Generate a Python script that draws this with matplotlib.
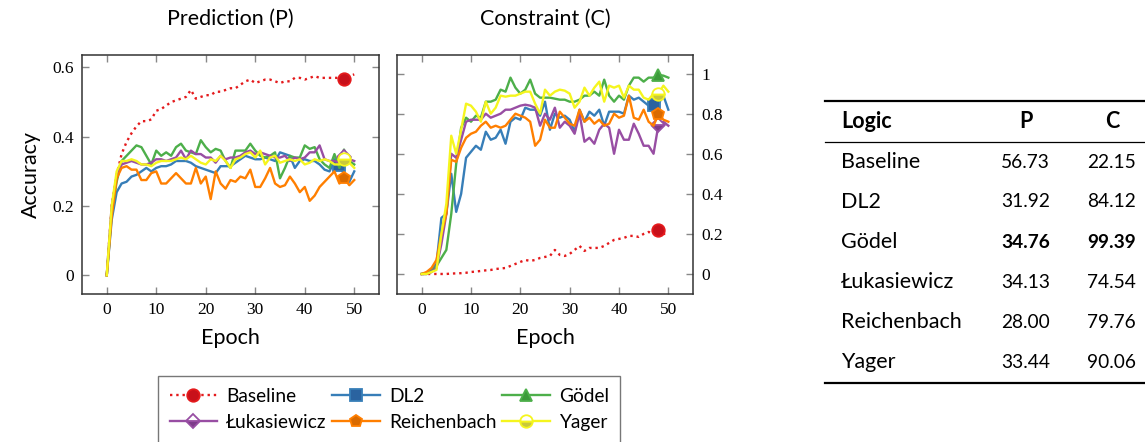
import numpy as np
import matplotlib.pyplot as plt
from matplotlib.lines import Line2D

# Datos
epochs = np.arange(51)
logics = ["Baseline", "DL2", "Gödel", "Łukasiewicz", "Reichenbach", "Yager"]

pred_baseline = [0.0, 0.2, 0.29, 0.35, 0.385, 0.41, 0.43, 0.445, 0.445, 0.45, 0.475, 0.48, 0.49, 0.5, 0.505,
                 0.51, 0.515, 0.535, 0.51, 0.515, 0.52, 0.52, 0.53, 0.53, 0.535, 0.54, 0.54, 0.55, 0.56, 0.565,
                 0.555, 0.56, 0.565, 0.565, 0.56, 0.555, 0.56, 0.56, 0.57, 0.57, 0.565, 0.57, 0.575, 0.57, 0.57,
                 0.57, 0.57, 0.57, 0.5673, 0.575, 0.58]
pred_dl2 = [0.0, 0.16, 0.24, 0.265, 0.27, 0.285, 0.29, 0.3, 0.31, 0.3, 0.31, 0.315, 0.315, 0.32, 0.33,
            0.33, 0.33, 0.325, 0.315, 0.31, 0.305, 0.3, 0.295, 0.315, 0.315, 0.315, 0.325, 0.335, 0.345, 0.34,
            0.335, 0.335, 0.34, 0.335, 0.33, 0.355, 0.35, 0.345, 0.31, 0.33, 0.335, 0.33, 0.33, 0.32, 0.305,
            0.3, 0.33, 0.3192, 0.29, 0.27, 0.3]
pred_godel = [0.0, 0.18, 0.27, 0.33, 0.345, 0.36, 0.375, 0.37, 0.345, 0.32, 0.36, 0.345, 0.355, 0.345, 0.37,
              0.38, 0.36, 0.355, 0.35, 0.39, 0.37, 0.355, 0.365, 0.36, 0.33, 0.31, 0.36, 0.36, 0.36, 0.38,
              0.36, 0.345, 0.34, 0.345, 0.355, 0.28, 0.31, 0.345, 0.34, 0.34, 0.375, 0.365, 0.37, 0.335, 0.32,
              0.31, 0.35, 0.31, 0.3476, 0.33, 0.32]
pred_luk = [0.0, 0.2, 0.28, 0.32, 0.325, 0.33, 0.325, 0.32, 0.32, 0.325, 0.335, 0.335, 0.33, 0.335, 0.34,
            0.36, 0.335, 0.36, 0.35, 0.35, 0.34, 0.34, 0.325, 0.345, 0.335, 0.34, 0.34, 0.345, 0.355, 0.36,
            0.35, 0.355, 0.35, 0.345, 0.34, 0.34, 0.345, 0.33, 0.34, 0.335, 0.34, 0.355, 0.355, 0.375, 0.335,
            0.33, 0.33, 0.325, 0.3413, 0.335, 0.33]
pred_reich = [0.0, 0.17, 0.28, 0.31, 0.315, 0.305, 0.305, 0.275, 0.275, 0.295, 0.3, 0.265, 0.265, 0.28, 0.295,
              0.28, 0.265, 0.265, 0.31, 0.265, 0.285, 0.22, 0.3, 0.265, 0.25, 0.275, 0.27, 0.285, 0.28, 0.305,
              0.255, 0.255, 0.28, 0.31, 0.265, 0.255, 0.26, 0.285, 0.265, 0.24, 0.255, 0.215, 0.23, 0.255, 0.27,
              0.285, 0.3, 0.265, 0.28, 0.26, 0.275]
pred_yager = [0.0, 0.2, 0.3, 0.33, 0.33, 0.335, 0.33, 0.32, 0.32, 0.315, 0.325, 0.33, 0.33, 0.33, 0.335,
              0.34, 0.335, 0.345, 0.335, 0.325, 0.32, 0.335, 0.33, 0.345, 0.33, 0.31, 0.335, 0.34, 0.35, 0.355,
              0.34, 0.36, 0.32, 0.34, 0.345, 0.325, 0.33, 0.335, 0.33, 0.335, 0.32, 0.325, 0.335, 0.33, 0.335,
              0.33, 0.32, 0.32, 0.3344, 0.325, 0.31]

cons_baseline = [0.0, 0.0, 0.0, 0.0, 0.0, 0.0, 0.002, 0.003, 0.004, 0.006, 0.01, 0.012, 0.015, 0.018, 0.02,
                 0.025, 0.027, 0.03, 0.04, 0.05, 0.06, 0.07, 0.065, 0.07, 0.08, 0.085, 0.09, 0.12, 0.095, 0.09,
                 0.1, 0.12, 0.14, 0.115, 0.13, 0.13, 0.13, 0.14, 0.155, 0.17, 0.175, 0.18, 0.19, 0.19, 0.185,
                 0.2, 0.21, 0.2, 0.2215, 0.2, 0.2]
cons_dl2 = [0.0, 0.0, 0.02, 0.05, 0.28, 0.3, 0.5, 0.31, 0.4, 0.58, 0.61, 0.64, 0.62, 0.71, 0.67,
            0.68, 0.72, 0.65, 0.76, 0.78, 0.77, 0.83, 0.82, 0.82, 0.79, 0.86, 0.72, 0.8, 0.78, 0.79,
            0.77, 0.71, 0.82, 0.76, 0.81, 0.79, 0.82, 0.74, 0.81, 0.81, 0.81, 0.8, 0.89, 0.87, 0.88,
            0.86, 0.84, 0.8412, 0.85, 0.89, 0.82]
cons_godel = [0.0, 0.005, 0.01, 0.04, 0.08, 0.12, 0.3, 0.55, 0.73, 0.78, 0.76, 0.79, 0.78, 0.86, 0.86,
              0.87, 0.92, 0.91, 0.98, 0.93, 0.9, 0.92, 0.97, 0.9, 0.88, 0.88, 0.88, 0.875, 0.87, 0.87,
              0.86, 0.86, 0.87, 0.89, 0.89, 0.91, 0.89, 0.97, 0.89, 0.86, 0.89, 0.87, 0.94, 0.98, 0.98,
              0.96, 0.98, 0.98, 0.9939, 0.99, 0.98]
cons_luk = [0.0, 0.0, 0.01, 0.03, 0.15, 0.3, 0.6, 0.58, 0.67, 0.76, 0.77, 0.77, 0.77, 0.8, 0.78,
            0.79, 0.8, 0.82, 0.82, 0.83, 0.84, 0.845, 0.84, 0.83, 0.74, 0.8, 0.77, 0.83, 0.73, 0.76,
            0.74, 0.7, 0.8, 0.66, 0.68, 0.65, 0.72, 0.75, 0.73, 0.6, 0.72, 0.67, 0.67, 0.75, 0.7,
            0.64, 0.64, 0.6, 0.7454, 0.76, 0.74]
cons_reich = [0.0, 0.01, 0.03, 0.07, 0.2, 0.3, 0.57, 0.56, 0.63, 0.68, 0.7, 0.71, 0.74, 0.76, 0.73,
              0.74, 0.73, 0.74, 0.77, 0.8, 0.79, 0.78, 0.76, 0.64, 0.67, 0.77, 0.73, 0.73, 0.81, 0.78,
              0.75, 0.74, 0.82, 0.76, 0.78, 0.75, 0.77, 0.74, 0.75, 0.8, 0.78, 0.79, 0.89, 0.78, 0.77,
              0.82, 0.76, 0.74, 0.7976, 0.77, 0.76]
cons_yager = [0.0, 0.0, 0.01, 0.02, 0.2, 0.35, 0.69, 0.6, 0.72, 0.85, 0.84, 0.81, 0.76, 0.86, 0.8,
              0.83, 0.89, 0.885, 0.89, 0.89, 0.9, 0.91, 0.91, 0.85, 0.8, 0.92, 0.89, 0.91, 0.92, 0.915,
              0.9, 0.83, 0.86, 0.93, 0.89, 0.93, 0.96, 0.86, 0.94, 0.93, 0.94, 0.88, 0.94, 0.92, 0.92,
              0.88, 0.87, 0.9, 0.9006, 0.94, 0.91]

table_p = ["56.73", "31.92", "34.76", "34.13", "28.00", "33.44"]
table_c = ["22.15", "84.12", "99.39", "74.54", "79.76", "90.06"]

pred = [pred_baseline, pred_dl2, pred_godel, pred_luk, pred_reich, pred_yager]
cons = [cons_baseline, cons_dl2, cons_godel, cons_luk, cons_reich, cons_yager]

# estilos
colors = ["#e41a1c", "#377eb8", "#4daf4a", "#984ea3", "#ff7f00", "#f5f51e"]
fills = ["#c8101a", "#2a63a0", "#3c9a3a", "#7d3c8a", "#d96a00", "#c8c83c"]
markers = ["o", "s", "^", "D", "p", "o"]
msizes = [9, 9, 8, 7, 9, 9]
fillst = ["full", "full", "full", "bottom", "full", "bottom"]
styles = [":", "-", "-", "-", "-", "-"]
mark_at = [48, 47, 48, 48, 48, 48]

SANS = "Lato"
SERIF = "Liberation Serif"
plt.rcParams['font.family'] = SANS

fig = plt.figure(figsize=(11.45, 4.42), dpi=100)
ax1 = fig.add_axes([82/1145, 1-294/442, 297/1145, 239/442])
ax2 = fig.add_axes([397/1145, 1-294/442, 296/1145, 239/442])

def estilo(i):
    return dict(linestyle=styles[i], color=colors[i], lw=1.7, marker=markers[i], ms=msizes[i],
                fillstyle=fillst[i], markerfacecolor=fills[i], markerfacecoloralt="white",
                markeredgecolor=colors[i], markeredgewidth=1.3)

for ax, data in [(ax1, pred), (ax2, cons)]:
    for i in range(6):
        ax.plot(epochs, data[i], markevery=[mark_at[i]], **estilo(i))

ax1.set_xlim(-5, 55)
ax2.set_xlim(-5, 55)
ax1.set_ylim(-0.054, 0.636)
ax2.set_ylim(-0.1, 1.093)

xt = [0, 10, 20, 30, 40, 50]
for ax in (ax1, ax2):
    ax.set_xticks(xt)
    ax.set_xticklabels([str(v) for v in xt], fontfamily=SERIF, fontsize=12.5)
    ax.tick_params(direction="in", length=5, width=1, color="#888888", top=True, bottom=True,
                   left=True, right=True, pad=6)
    for sp in ax.spines.values():
        sp.set_color("#333333")
        sp.set_linewidth(1.1)
    ax.set_xlabel("Epoch", fontsize=15.5, labelpad=7)

ax1.set_yticks([0, 0.2, 0.4, 0.6])
ax1.set_yticklabels(["0", "0.2", "0.4", "0.6"], fontfamily=SERIF, fontsize=12.5)
ax1.set_ylabel("Accuracy", fontsize=15.5, labelpad=8)
ax1.set_title("Prediction (P)", fontsize=15.5, pad=22)

ax2.set_yticks([0, 0.2, 0.4, 0.6, 0.8, 1])
ax2.set_yticklabels(["0", "0.2", "0.4", "0.6", "0.8", "1"], fontfamily=SERIF, fontsize=12.5)
ax2.tick_params(labelleft=False, labelright=True)
ax2.set_title("Constraint (C)", fontsize=15.5, pad=22)

# leyenda por filas (matplotlib llena por columnas)
proxies = [Line2D([], [], label=logics[i], **estilo(i)) for i in range(6)]
orden = [0, 3, 1, 4, 2, 5]
leg = fig.legend(handles=[proxies[k] for k in orden], ncol=3, loc="upper left",
                 bbox_to_anchor=(158/1145, 1-376/442), borderaxespad=0, fontsize=13.8,
                 frameon=True, fancybox=False, numpoints=1, handlelength=2.5,
                 columnspacing=0.3, handletextpad=0.45, borderpad=0.6, labelspacing=0.5)
leg.get_frame().set_edgecolor("#555555")
leg.get_frame().set_linewidth(1.0)

# tabla
x_l, x_r = 825, 1145
fig.add_artist(Line2D([x_l/1145, x_r/1145], [1-101/442]*2, color="black", lw=1.6))
fig.add_artist(Line2D([x_l/1145, x_r/1145], [1-142/442]*2, color="black", lw=0.9))
fig.add_artist(Line2D([x_l/1145, x_r/1145], [1-383/442]*2, color="black", lw=1.6))

hy = 1 - 122/442
fig.text(841/1145, hy, "Logic", fontsize=15.5, fontweight="bold", va="center", ha="left")
fig.text(1026/1145, hy, "P", fontsize=15.5, fontweight="bold", va="center", ha="center")
fig.text(1112/1145, hy, "C", fontsize=15.5, fontweight="bold", va="center", ha="center")

row_y = [162, 202, 242, 282, 322, 362]
for i in range(6):
    yy = 1 - row_y[i] / 442
    w = "bold" if logics[i] == "Gödel" else "normal"
    fig.text(841/1145, yy, logics[i], fontsize=15.5, va="center", ha="left")
    fig.text(1050/1145, yy, table_p[i], fontsize=13.8, va="center", ha="right", fontweight=w)
    fig.text(1136/1145, yy, table_c[i], fontsize=13.8, va="center", ha="right", fontweight=w)

fig.savefig("out.png", dpi=100)
